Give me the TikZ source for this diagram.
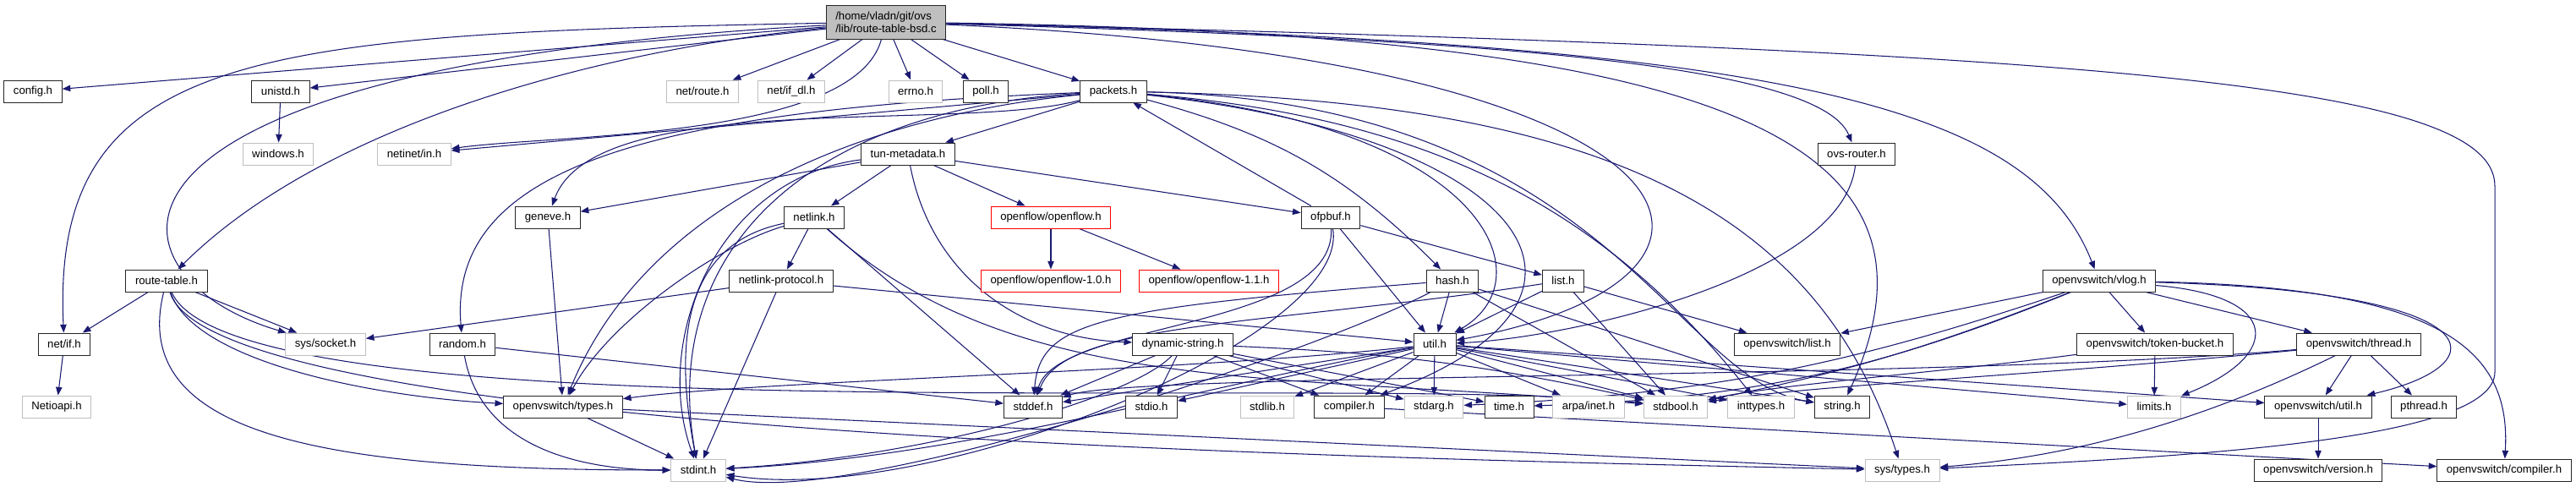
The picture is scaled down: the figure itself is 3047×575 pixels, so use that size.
\documentclass[tikz,border=0pt]{standalone}
\usepackage{fontspec}
\setmainfont{Liberation Sans}
\usetikzlibrary{arrows.meta,backgrounds}
\definecolor{dgEdge}{HTML}{191970}
\definecolor{dgGrey}{HTML}{BFBFBF}
\definecolor{dgRed}{HTML}{FF0000}
\tikzset{
  hdr/.style      ={draw=black!85,line width=0.55pt,fill=white,inner xsep=6.3pt,inner ysep=0pt,
                    minimum height=0.52cm,font=\fontsize{7.5}{8.5}\selectfont},
  sysinc/.style   ={hdr,draw=dgGrey,line width=0.55pt},
  missing/.style  ={hdr,draw=dgRed,line width=0.55pt},
  rootfile/.style ={hdr,fill=dgGrey,minimum height=0.8cm,align=left},
  dep/.style      ={-{Triangle[length=5.5pt,width=4.2pt]},dgEdge,line width=0.6pt},
}

\begin{document}
\begin{tikzpicture}[x=0.02cm,y=0.02cm]
\useasboundingbox (0,0) rectangle (3047,-575);
% the file itself
\node[rootfile] (root) at (1048,-26) {/home/vladn/git/ovs\\/lib/route-table-bsd.c};

% rank 1
\node[hdr]    (config)   at (39,-108)   {config.h};
\node[hdr]    (unistd)   at (332,-108)  {unistd.h};
\node[sysinc] (netroute) at (831,-108)  {net/route.h};
\node[sysinc] (netifdl)  at (936,-108)  {net/if\_dl.h};
\node[sysinc] (errno)    at (1083,-108) {errno.h};
\node[hdr]    (poll)     at (1166,-108) {poll.h};
\node[hdr]    (packets)  at (1317,-108) {packets.h};

% rank 2
\node[sysinc] (windows)   at (329,-182)  {windows.h};
\node[sysinc] (netinetin) at (490,-182)  {netinet/in.h};
\node[hdr]    (tunmeta)   at (1074,-182) {tun-metadata.h};
\node[hdr]    (ovsrouter) at (2196,-182) {ovs-router.h};

% rank 3
\node[hdr]     (geneve)   at (648,-257)  {geneve.h};
\node[hdr]     (netlink)  at (963,-257)  {netlink.h};
\node[missing] (openflow) at (1243,-257) {openflow/openflow.h};
\node[hdr]     (ofpbuf)   at (1574,-257) {ofpbuf.h};

% rank 4
\node[hdr]     (routetable) at (197,-332)  {route-table.h};
\node[hdr]     (nlproto)    at (924,-332)  {netlink-protocol.h};
\node[missing] (of10)       at (1243,-332) {openflow/openflow-1.0.h};
\node[missing] (of11)       at (1430,-332) {openflow/openflow-1.1.h};
\node[hdr]     (hash)       at (1718,-332) {hash.h};
\node[hdr]     (list)       at (1849,-332) {list.h};
\node[hdr]     (vlog)       at (2483,-332) {openvswitch/vlog.h};

% rank 5
\node[hdr]    (netif)       at (76,-407)   {net/if.h};
\node[sysinc] (syssocket)   at (385,-407)  {sys/socket.h};
\node[hdr]    (random)      at (547,-407)  {random.h};
\node[hdr]    (dynstring)   at (1399,-407) {dynamic-string.h};
\node[hdr]    (util)        at (1697,-407) {util.h};
\node[hdr]    (ovslist)     at (2114,-407) {openvswitch/list.h};
\node[hdr]    (tokenbucket) at (2549,-407) {openvswitch/token-bucket.h};
\node[hdr]    (thread)      at (2790,-407) {openvswitch/thread.h};

% rank 6
\node[sysinc] (netioapi) at (67,-481)   {Netioapi.h};
\node[hdr]    (ovstypes) at (666,-481)  {openvswitch/types.h};
\node[hdr]    (stddef)   at (1222,-481) {stddef.h};
\node[hdr]    (stdio)    at (1362,-481) {stdio.h};
\node[sysinc] (stdlib)   at (1499,-481) {stdlib.h};
\node[hdr]    (compiler) at (1596,-481) {compiler.h};
\node[sysinc] (stdarg)   at (1696,-481) {stdarg.h};
\node[hdr]    (timeh)    at (1785,-481) {time.h};
\node[sysinc] (arpainet) at (1879,-481) {arpa/inet.h};
\node[sysinc] (stdbool)  at (1982,-481) {stdbool.h};
\node[sysinc] (inttypes) at (2083,-481) {inttypes.h};
\node[hdr]    (stringh)  at (2179,-481) {string.h};
\node[sysinc] (limits)   at (2548,-481) {limits.h};
\node[hdr]    (ovsutil)  at (2742,-481) {openvswitch/util.h};
\node[hdr]    (pthread)  at (2867,-481) {pthread.h};

% rank 7
\node[sysinc] (stdint)      at (826,-556)  {stdint.h};
\node[sysinc] (systypes)    at (2250,-556) {sys/types.h};
\node[hdr]    (ovsversion)  at (2742,-556) {openvswitch/version.h};
\node[hdr]    (ovscompiler) at (2962,-556) {openvswitch/compiler.h};

\begin{scope}[on background layer]
% route-table-bsd.c
\draw[dep] (root) -- (config);
\draw[dep] (root) -- (unistd);
\draw[dep] (root) -- (netroute);
\draw[dep] (root) -- (netifdl);
\draw[dep] (root) -- (errno);
\draw[dep] (root) -- (poll);
\draw[dep] (root) -- (packets);
\draw[dep] (root) to[out=-105,in=8,looseness=0.6] (netinetin);
\draw[dep] (root) .. controls (300,-40) and (60,-60) .. (netif);
\draw[dep] (root) .. controls (50,-80) and (120,-330) .. (syssocket);
\draw[dep] (root) .. controls (700,-60) and (380,-150) .. (routetable);
\draw[dep] (root) .. controls (1700,-45) and (2150,-70) .. (ovsrouter);
\draw[dep] (root) .. controls (2050,-70) and (2120,-330) .. (util);
\draw[dep] (root) .. controls (2000,-40) and (2330,-150) .. (stringh);
\draw[dep] (root) .. controls (2100,-50) and (2400,-120) .. (vlog);
\draw[dep] (root) .. controls (2500,-60) and (2951,-100) .. (2951,-220) -- (2951,-440)
  .. controls (2951,-520) and (2600,-540) .. (systypes);

% packets.h
\draw[dep] (packets) -- (netinetin);
\draw[dep] (packets) to[out=195,in=70,looseness=0.6] (geneve);
\draw[dep] (packets) .. controls (1000,-140) and (760,-250) .. (ovstypes);
\draw[dep] (packets) .. controls (760,-130) and (530,-200) .. (random);
\draw[dep] (packets) .. controls (950,-130) and (780,-300) .. (stdint);
\draw[dep] (packets) -- (tunmeta);
\draw[dep] (packets) to[bend left=15] (hash);
\draw[dep] (packets) .. controls (1760,-150) and (1830,-330) .. (util);
\draw[dep] (packets) .. controls (1700,-140) and (1900,-250) .. (inttypes);
\draw[dep] (packets) .. controls (1900,-120) and (2150,-250) .. (systypes);
\draw[dep] (packets) .. controls (1900,-120) and (1980,-450) .. (stringh);
\draw[dep] (packets) .. controls (1800,-160) and (1950,-350) .. (compiler);

% tun-metadata.h
\draw[dep] (tunmeta) -- (geneve);
\draw[dep] (tunmeta) -- (netlink);
\draw[dep] (tunmeta) -- (openflow);
\draw[dep] (tunmeta) -- (ofpbuf);
\draw[dep] (tunmeta) .. controls (850,-210) and (770,-400) .. (stdint);
\draw[dep] (tunmeta) .. controls (1100,-320) and (1200,-400) .. (dynstring);

% small ones
\draw[dep] (unistd) -- (windows);
\draw[dep] (netif) -- (netioapi);
\draw[dep] (geneve) -- (ovstypes);
\draw[dep] (openflow) -- (of10);
\draw[dep] (openflow) -- (of11);

% netlink.h, netlink-protocol.h
\draw[dep] (netlink) -- (nlproto);
\draw[dep] (netlink) .. controls (850,-290) and (720,-380) .. (ovstypes);
\draw[dep] (netlink) .. controls (800,-290) and (800,-420) .. (stdint);
\draw[dep] (netlink) -- (stddef);
\draw[dep] (netlink) .. controls (1200,-470) and (1500,-440) .. (stdbool);
\draw[dep] (nlproto) -- (syssocket);
\draw[dep] (nlproto) -- (stdint);
\draw[dep] (nlproto) -- (util);

% ofpbuf.h
\draw[dep] (ofpbuf) -- (packets);
\draw[dep] (ofpbuf) -- (list);
\draw[dep] (ofpbuf) -- (util);
\draw[dep] (ofpbuf) .. controls (1580,-390) and (1250,-380) .. (stddef);
\draw[dep] (ofpbuf) .. controls (1600,-400) and (1100,-600) .. (stdint);

% hash.h, list.h
\draw[dep] (hash) -- (util);
\draw[dep] (hash) .. controls (1300,-365) and (1230,-380) .. (stddef);
\draw[dep] (hash) .. controls (1550,-420) and (1000,-600) .. (stdint);
\draw[dep] (hash) -- (stdbool);
\draw[dep] (hash) -- (stringh);
\draw[dep] (list) -- (ovslist);
\draw[dep] (list) -- (util);
\draw[dep] (list) -- (stdbool);
\draw[dep] (list) .. controls (1500,-385) and (1260,-380) .. (stddef);

% random.h, route-table.h, ovs-router.h
\draw[dep] (random) -- (stddef);
\draw[dep] (random) to[out=-80,in=180] (stdint);
\draw[dep] (routetable) -- (netif);
\draw[dep] (routetable) -- (syssocket);
\draw[dep] (routetable) .. controls (230,-430) and (450,-470) .. (ovstypes);
\draw[dep] (routetable) .. controls (280,-520) and (1600,-440) .. (stdbool);
\draw[dep] (routetable) .. controls (150,-520) and (400,-556) .. (stdint);
\draw[dep] (routetable) .. controls (250,-510) and (1500,-540) .. (systypes);
\draw[dep] (ovsrouter) .. controls (2180,-330) and (1850,-400) .. (util);

% dynamic-string.h
\draw[dep] (dynstring) -- (stddef);
\draw[dep] (dynstring) .. controls (1340,-470) and (1100,-540) .. (stdint);
\draw[dep] (dynstring) -- (stdio);
\draw[dep] (dynstring) -- (compiler);
\draw[dep] (dynstring) -- (stdarg);
\draw[dep] (dynstring) -- (timeh);
\draw[dep] (dynstring) to[bend left=5] (stdbool);

% util.h
\draw[dep] (util) -- (arpainet);
\draw[dep] (util) -- (inttypes);
\draw[dep] (util) -- (limits);
\draw[dep] (util) -- (stdarg);
\draw[dep] (util) -- (stdbool);
\draw[dep] (util) -- (stddef);
\draw[dep] (util) .. controls (1450,-450) and (1150,-540) .. (stdint);
\draw[dep] (util) -- (stdio);
\draw[dep] (util) -- (stdlib);
\draw[dep] (util) -- (stringh);
\draw[dep] (util) -- (compiler);
\draw[dep] (util) -- (ovsutil);
\draw[dep] (util) .. controls (1400,-440) and (900,-450) .. (ovstypes);

% openvswitch/vlog.h
\draw[dep] (vlog) .. controls (2700,-350) and (2700,-420) .. (limits);
\draw[dep] (vlog) to[bend left=8] (stdarg);
\draw[dep] (vlog) to[bend left=10] (timeh);
\draw[dep] (vlog) to[bend left=5] (stdbool);
\draw[dep] (vlog) .. controls (2900,-340) and (2970,-420) .. (ovscompiler);
\draw[dep] (vlog) -- (ovslist);
\draw[dep] (vlog) -- (thread);
\draw[dep] (vlog) -- (tokenbucket);
\draw[dep] (vlog) .. controls (2950,-345) and (2960,-430) .. (ovsutil);

% thread.h, token-bucket.h
\draw[dep] (thread) -- (pthread);
\draw[dep] (thread) -- (ovsutil);
\draw[dep] (thread) .. controls (2600,-500) and (2450,-540) .. (systypes);
\draw[dep] (thread) .. controls (2300,-450) and (1350,-440) .. (stddef);
\draw[dep] (thread) .. controls (2400,-445) and (2150,-455) .. (stdbool);
\draw[dep] (tokenbucket) -- (limits);
\draw[dep] (tokenbucket) .. controls (2300,-440) and (2100,-455) .. (stdbool);

% bottom
\draw[dep] (ovsutil) -- (ovsversion);
\draw[dep] (ovstypes) -- (stdint);
\draw[dep] (ovstypes) -- (systypes);
\draw[dep] (compiler) -- (ovscompiler);
\end{scope}
\end{tikzpicture}
\end{document}
